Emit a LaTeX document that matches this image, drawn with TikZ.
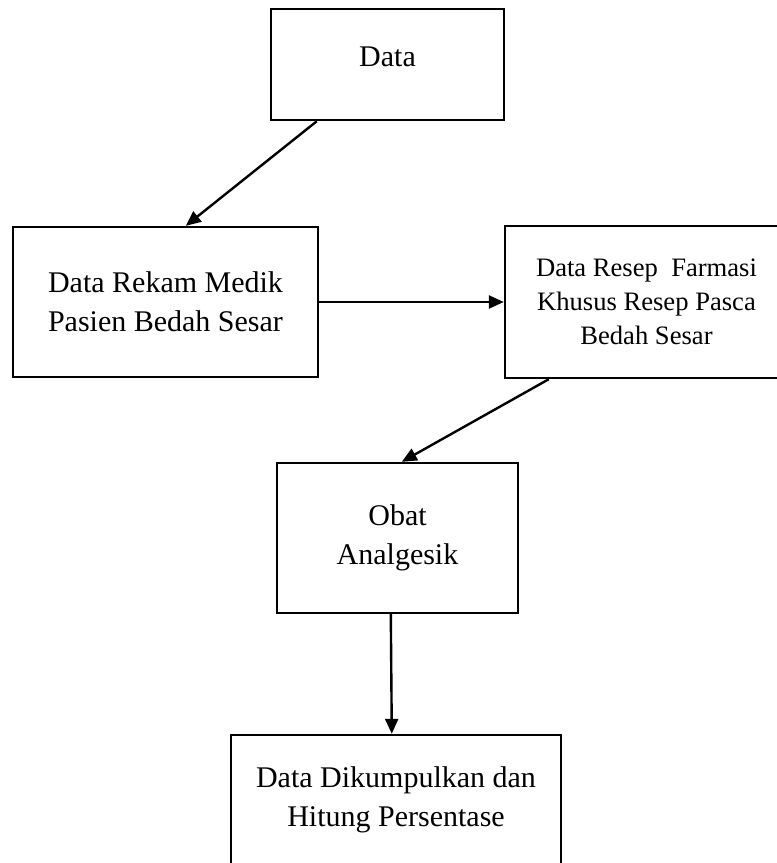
\documentclass[tikz,border=0pt]{standalone}
\usepackage{fontspec}
\setmainfont{Liberation Serif}
\usetikzlibrary{arrows.meta}
\begin{document}
\begin{tikzpicture}[x=1pt,y=-1pt,
  box/.style={draw=black,line width=2.4pt,rectangle,inner sep=0pt,align=center,
    font=\fontsize{30}{39}\selectfont},
  conn/.style={line width=2.4pt,-{Triangle[length=15pt,width=13pt]}},
  txt/.style={inner sep=0pt,align=center,font=\fontsize{30}{39}\selectfont}]
\useasboundingbox (0,0) rectangle (777,863);
\fill[white] (0,0) rectangle (777,863);
\node[box,minimum width=233pt,minimum height=111pt] (data) at (387.5,64.5) {};
\node[txt] (datatext) at (387.5,57) {Data};
\node[box,minimum width=305pt,minimum height=150pt] (rekam) at (165.5,302) {Data Rekam Medik\\Pasien Bedah Sesar};
\node[box,minimum width=283pt,minimum height=152pt,font=\fontsize{26.6}{34}\selectfont] (resep) at (646.5,302) {Data Resep\ \ Farmasi\\Khusus Resep Pasca\\Bedah Sesar};
\node[box,minimum width=241pt,minimum height=150pt] (obat) at (397.5,538) {Obat\\Analgesik};
\node[box,minimum width=330pt,minimum height=130pt] (dik) at (396,800) {Data Dikumpulkan dan\\Hitung Persentase};
\draw[conn] ([xshift=47pt]data.south west) -- ([xshift=174pt]rekam.north west);
\draw[conn] (rekam.east) -- (resep.west);
\draw[conn] ([xshift=45pt]resep.south west) -- ([xshift=126pt]obat.north west);
\draw[conn] ([xshift=115pt]obat.south west) -- ([xshift=162pt]dik.north west);
\end{tikzpicture}
\end{document}
